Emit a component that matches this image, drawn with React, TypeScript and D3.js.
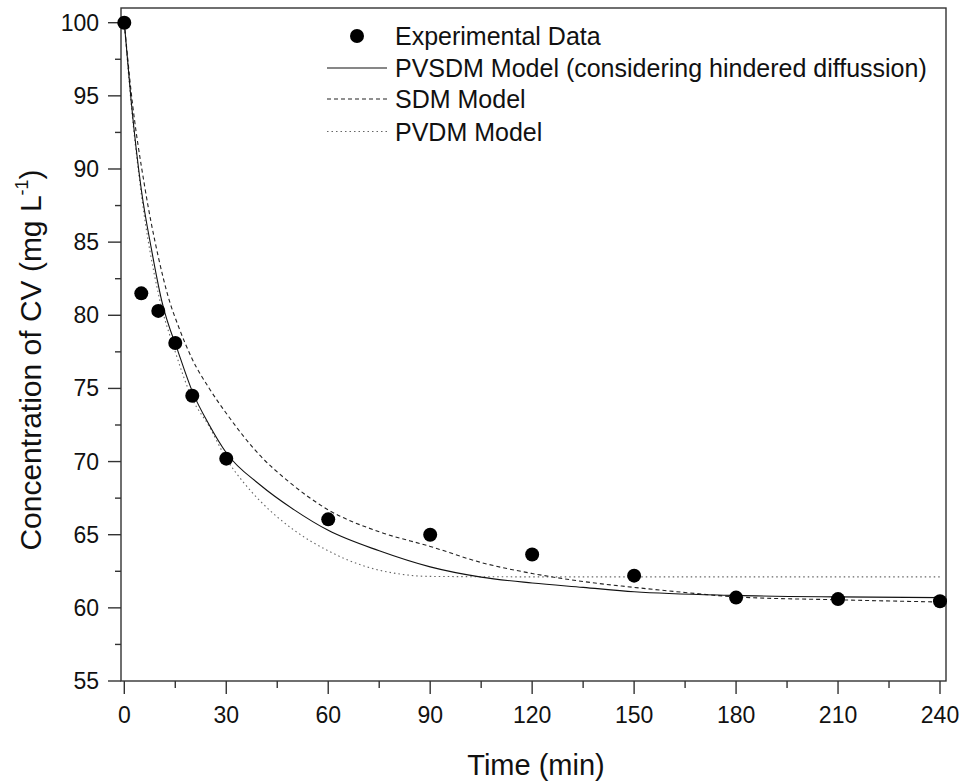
import React from "react";
import * as d3 from "d3";

// Experimental data
const expTime = [0, 5, 10, 15, 20, 30, 60, 90, 120, 150, 180, 210, 240];
const expConc = [100, 81.5, 80.3, 78.1, 74.5, 70.2, 66.05, 65.0, 63.65, 62.2, 60.7, 60.6, 60.45];

// PVSDM model (solid)
const pvsdmTime = [0, 2, 5, 8, 11, 16, 20, 25, 30, 40, 50, 60, 75, 90, 105, 120, 135, 150, 180, 210, 240];
const pvsdmConc = [100, 94.7, 88.6, 84.5, 81.0, 77.4, 74.8, 72.5, 70.6, 68.4, 66.7, 65.3, 63.9, 62.8, 62.1, 61.7, 61.4, 61.1, 60.85, 60.75, 60.7];

// SDM model (dashed)
const sdmTime = [0, 2, 6, 10, 13, 16, 20, 25, 30, 40, 48, 60, 75, 90, 105, 120, 135, 150, 165, 180, 210, 240];
const sdmConc = [100, 95.3, 88.8, 84.0, 81.2, 79.2, 77.0, 75.0, 73.3, 70.4, 68.7, 66.7, 65.2, 64.2, 63.1, 62.35, 61.8, 61.4, 61.05, 60.75, 60.55, 60.4];

// PVDM model (dotted)
const pvdmTime = [0, 2, 5, 10, 15, 20, 25, 30, 35, 40, 50, 60, 70, 80, 90, 120, 180, 240];
const pvdmConc = [100, 94.5, 88.3, 81.5, 77.5, 74.3, 72.4, 70.2, 68.6, 67.3, 65.3, 63.9, 62.9, 62.35, 62.15, 62.12, 62.12, 62.12];

const xTicks = [0, 30, 60, 90, 120, 150, 180, 210, 240];
const yTicks = [55, 60, 65, 70, 75, 80, 85, 90, 95, 100];

const legendLabels = [
  "Experimental Data",
  "PVSDM Model (considering hindered diffussion)",
  "SDM Model",
  "PVDM Model",
];

const W = 963;
const H = 783;
const FONT = "'Liberation Sans', Arial, Helvetica, sans-serif";

export default function App() {
  const frame = { left: 121, right: 946, top: 8, bottom: 681 };
  const x = d3.scaleLinear().domain([0, 240]).range([124.3, 940]);
  const y = d3.scaleLinear().domain([55, 100]).range([681, 22.7]);

  const mk = (ts: number[], vs: number[]) =>
    d3
      .line<number>()
      .x((_, i) => x(ts[i]))
      .y((v) => y(v))
      .curve(d3.curveMonotoneX)(vs) as string;

  const majorX = xTicks;
  const minorX = d3.range(15, 240, 30);
  const minorY = d3.range(57.5, 100, 5);

  const legX1 = 327;
  const legX2 = 387;
  const legText = 395;
  const legRows = [36, 68, 99, 131.5];

  return (
    <svg
      width={W}
      height={H}
      style={{ position: "absolute", left: 0, top: 0, background: "#fff" }}
      fontFamily={FONT}
    >
      <rect x={0} y={0} width={W} height={H} fill="#fff" />
      {/* frame */}
      <rect
        x={frame.left}
        y={frame.top}
        width={frame.right - frame.left}
        height={frame.bottom - frame.top}
        fill="none"
        stroke="#333"
        strokeWidth={1.4}
      />
      {/* y ticks */}
      {yTicks.map((t) => (
        <g key={"yt" + t}>
          <line x1={108} x2={frame.left} y1={y(t)} y2={y(t)} stroke="#333" strokeWidth={1.4} />
          <text x={99} y={y(t) + 8} fontSize={23} textAnchor="end" fill="#111">
            {t}
          </text>
        </g>
      ))}
      {minorY.map((t) => (
        <line key={"ym" + t} x1={115} x2={frame.left} y1={y(t)} y2={y(t)} stroke="#333" strokeWidth={1.4} />
      ))}
      {/* x ticks */}
      {majorX.map((t) => (
        <g key={"xt" + t}>
          <line x1={x(t)} x2={x(t)} y1={frame.bottom} y2={694} stroke="#333" strokeWidth={1.4} />
          <text x={x(t)} y={723} fontSize={23} textAnchor="middle" fill="#111">
            {t}
          </text>
        </g>
      ))}
      {minorX.map((t) => (
        <line key={"xm" + t} x1={x(t)} x2={x(t)} y1={frame.bottom} y2={688} stroke="#333" strokeWidth={1.4} />
      ))}
      {/* axis titles */}
      <text x={536} y={775} fontSize={29} textAnchor="middle" fill="#111">
        Time (min)
      </text>
      <text
        transform="translate(41,360) rotate(-90)"
        fontSize={30}
        textAnchor="middle"
        fill="#111"
      >
        Concentration of CV (mg L
        <tspan fontSize={18} dy={-13}>-1</tspan>
        <tspan dy={13}>)</tspan>
      </text>
      {/* model curves */}
      <path d={mk(pvdmTime, pvdmConc)} fill="none" stroke="#666" strokeWidth={1.1} strokeDasharray="1.5,3" />
      <path d={mk(sdmTime, sdmConc)} fill="none" stroke="#222" strokeWidth={1.1} strokeDasharray="4,3" />
      <path d={mk(pvsdmTime, pvsdmConc)} fill="none" stroke="#111" strokeWidth={1.1} />
      {/* experimental points */}
      {expTime.map((t, i) => (
        <circle key={"p" + t} cx={x(t)} cy={y(expConc[i])} r={7} fill="#000" />
      ))}
      {/* legend */}
      <circle cx={(legX1 + legX2) / 2} cy={legRows[0]} r={7} fill="#000" />
      <line x1={legX1} x2={legX2} y1={legRows[1]} y2={legRows[1]} stroke="#111" strokeWidth={1.1} />
      <line x1={legX1} x2={legX2} y1={legRows[2]} y2={legRows[2]} stroke="#222" strokeWidth={1.1} strokeDasharray="4,3" />
      <line x1={legX1} x2={legX2} y1={legRows[3]} y2={legRows[3]} stroke="#666" strokeWidth={1.1} strokeDasharray="1.5,3" />
      {legendLabels.map((l, i) => (
        <text key={l} x={legText} y={legRows[i] + 9} fontSize={25} fill="#111">
          {l}
        </text>
      ))}
    </svg>
  );
}
